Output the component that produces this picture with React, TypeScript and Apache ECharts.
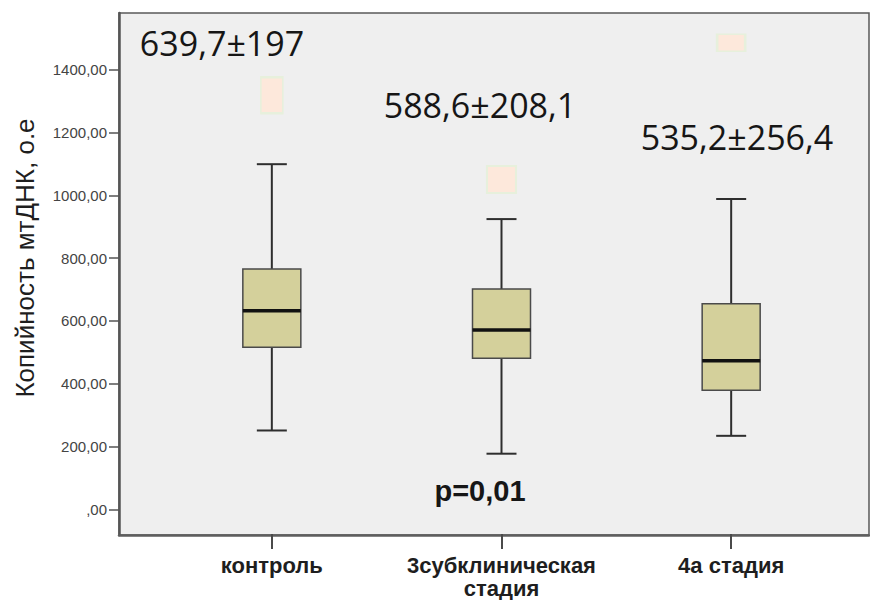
import { useEffect, useRef } from "react";
import * as echarts from "echarts";

// Groups on the x axis and the five-number summary of each box
const groups = ["контроль", "3субклиническая\nстадия", "4а стадия"];
const whiskerLow = [249, 175, 232];
const q1 = [514, 479, 377];
const median = [631, 569, 471];
const q3 = [764, 700, 653];
const whiskerHigh = [1098, 923, 987];
// Outlying observations, one per group
const outlierValues = [1318, 1049, 1485];

// Mean ± SD notes and the test result
const meanSd = ["639,7±197", "588,6±208,1", "535,2±256,4"];
const pValue = "p=0,01";

// Y axis
const yTicks = [0, 200, 400, 600, 800, 1000, 1200, 1400];
const yTitle = "Копийность мтДНК, о.е";

const Y_MIN = -81;
const Y_MAX = 1580;

// Marker sizes for the outliers (width, height in px)
const outlierSizes = [
  [22, 36],
  [29, 27],
  [28, 17],
];

const formatTick = (v: number) => (v === 0 ? ",00" : `${v},00`);

export default function App() {
  const ref = useRef<HTMLDivElement>(null);

  useEffect(() => {
    if (!ref.current) return;
    const chart = echarts.init(ref.current, null, { renderer: "svg" });

    const boxData = groups.map((_, i) => [
      i,
      whiskerLow[i],
      q1[i],
      median[i],
      q3[i],
      whiskerHigh[i],
    ]);

    const renderBox = (params: any, api: any) => {
      const i = api.value(0);
      const [x, yLow] = api.coord([i, api.value(1)]);
      const yQ1 = api.coord([i, api.value(2)])[1];
      const yMed = api.coord([i, api.value(3)])[1];
      const yQ3 = api.coord([i, api.value(4)])[1];
      const yHigh = api.coord([i, api.value(5)])[1];
      const half = 29;
      const cap = 15;
      const whisker = { stroke: "#2e2e2e", lineWidth: 2 };
      return {
        type: "group",
        children: [
          { type: "line", shape: { x1: x, y1: yQ3, x2: x, y2: yHigh }, style: whisker },
          { type: "line", shape: { x1: x, y1: yQ1, x2: x, y2: yLow }, style: whisker },
          { type: "line", shape: { x1: x - cap, y1: yHigh, x2: x + cap, y2: yHigh }, style: whisker },
          { type: "line", shape: { x1: x - cap, y1: yLow, x2: x + cap, y2: yLow }, style: whisker },
          {
            type: "rect",
            shape: { x: x - half, y: yQ3, width: half * 2, height: yQ1 - yQ3 },
            style: { fill: "#d4d09b", stroke: "#4a4a4a", lineWidth: 1.5 },
          },
          {
            type: "line",
            shape: { x1: x - half, y1: yMed, x2: x + half, y2: yMed },
            style: { stroke: "#111111", lineWidth: 3.5 },
          },
        ],
      };
    };

    const noteFont = "34px 'Open Sans', 'Noto Sans', sans-serif";
    const notePos = [
      [222, 43],
      [480, 105],
      [737, 137],
    ];

    chart.setOption({
      animation: false,
      backgroundColor: "#ffffff",
      grid: [
        {
          left: 119,
          right: 1,
          top: 13,
          bottom: 65,
          show: true,
          backgroundColor: "#efefef",
          borderColor: "#5a5a5a",
          borderWidth: 1.5,
        },
        {
          left: 157,
          right: 24,
          top: 13,
          bottom: 65,
        },
      ],
      xAxis: [
        {
          gridIndex: 0,
          type: "value",
          min: 0,
          max: 1,
          axisLine: { show: true, onZero: false, lineStyle: { color: "#5e5e5e", width: 2.5 } },
          axisTick: { show: false },
          axisLabel: { show: false },
          splitLine: { show: false },
        },
        {
          gridIndex: 1,
          type: "category",
          data: groups,
          axisLine: { show: false, onZero: false },
          axisTick: {
            show: true,
            alignWithLabel: true,
            length: 15,
            lineStyle: { color: "#4a4a4a", width: 2 },
          },
          axisLabel: {
            interval: 0,
            margin: 20,
            fontSize: 22,
            lineHeight: 23,
            fontWeight: "bold",
            color: "#1e1e1e",
            fontFamily: "'Liberation Sans', Arial, sans-serif",
          },
          splitLine: { show: false },
        },
      ],
      yAxis: [
        {
          gridIndex: 0,
          type: "value",
          min: Y_MIN,
          max: Y_MAX,
          axisLine: { show: true, lineStyle: { color: "#555555", width: 2.5 } },
          axisTick: {
            show: true,
            length: 10,
            customValues: yTicks,
            lineStyle: { color: "#555555", width: 1.5 },
          },
          axisLabel: {
            customValues: yTicks,
            formatter: formatTick,
            margin: 12,
            fontSize: 15,
            color: "#444444",
            fontFamily: "'Liberation Sans', Arial, sans-serif",
          },
          splitLine: { show: false },
        },
        {
          gridIndex: 1,
          type: "value",
          min: Y_MIN,
          max: Y_MAX,
          show: false,
          splitLine: { show: false },
        },
      ],
      series: [
        {
          type: "custom",
          xAxisIndex: 1,
          yAxisIndex: 1,
          data: boxData,
          encode: { x: 0, y: [1, 2, 3, 4, 5] },
          renderItem: renderBox,
          z: 3,
        },
        {
          type: "scatter",
          xAxisIndex: 1,
          yAxisIndex: 1,
          symbol: "rect",
          data: outlierValues.map((v, i) => ({
            value: [i, v],
            symbolSize: outlierSizes[i],
          })),
          itemStyle: {
            color: "#fde8db",
            borderColor: "#e7f0dc",
            borderWidth: 2,
            opacity: 1,
          },
          z: 4,
        },
      ],
      graphic: [
        ...meanSd.map((t, i) => ({
          type: "text",
          x: notePos[i][0],
          y: notePos[i][1],
          z: 10,
          style: {
            text: t,
            font: noteFont,
            fill: "#161616",
            textAlign: "center",
            textVerticalAlign: "middle",
          },
        })),
        {
          type: "text",
          x: 480,
          y: 491,
          z: 10,
          style: {
            text: pValue,
            font: "bold 29px 'Liberation Sans', Arial, sans-serif",
            fill: "#161616",
            textAlign: "center",
            textVerticalAlign: "middle",
          },
        },
        {
          type: "text",
          x: 25,
          y: 258,
          rotation: Math.PI / 2,
          z: 10,
          style: {
            text: yTitle,
            font: "26px 'Liberation Sans Narrow', 'Liberation Sans', Arial, sans-serif",
            fill: "#1e1e1e",
            textAlign: "center",
            textVerticalAlign: "middle",
          },
        },
      ],
    });

    return () => chart.dispose();
  }, []);

  return (
    <div
      ref={ref}
      style={{ position: "fixed", left: 0, top: 0, width: 870, height: 600 }}
    />
  );
}
